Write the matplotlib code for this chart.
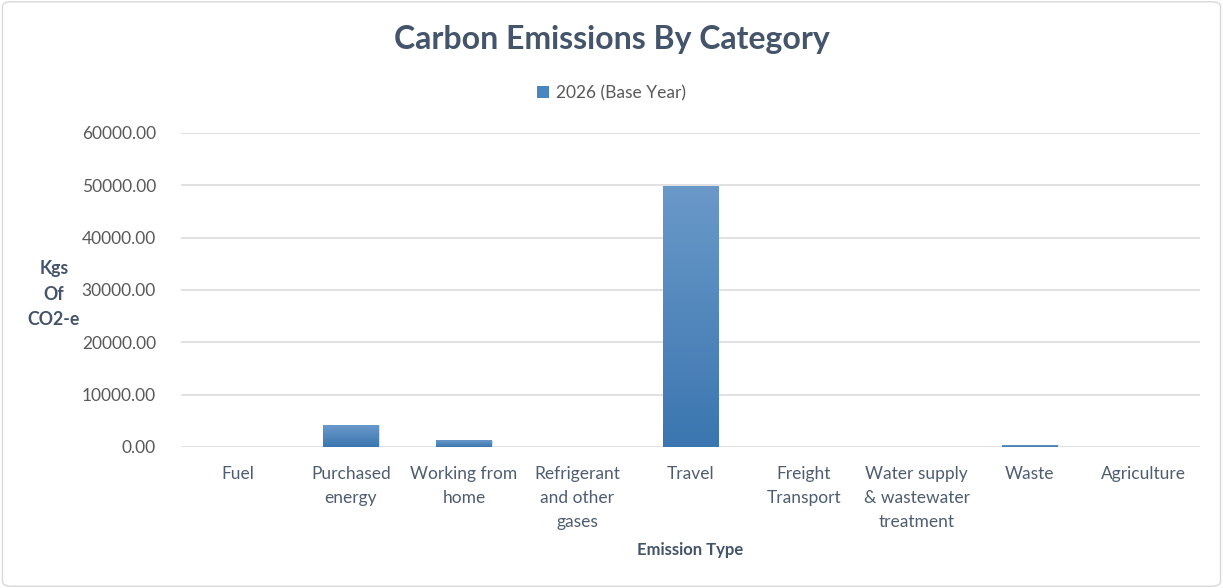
import numpy as np
import matplotlib.pyplot as plt
from matplotlib.patches import FancyBboxPatch
from matplotlib.colors import LinearSegmentedColormap

plt.rcParams['font.family'] = ['Lato', 'DejaVu Sans']

# Data
categories = ["Fuel", "Purchased\nenergy", "Working from\nhome", "Refrigerant\nand other\ngases",
              "Travel", "Freight\nTransport", "Water supply\n& wastewater\ntreatment", "Waste",
              "Agriculture"]
emissions = [0, 4200, 1250, 0, 49700, 0, 0, 300, 0]
series_name = "2026 (Base Year)"
yticks = np.arange(0, 60001, 10000)

title_col = "#44546a"
text_col = "#595959"
grid_col = "#d9d9d9"

fig = plt.figure(figsize=(12.23, 5.88), dpi=100)
ax = fig.add_axes([0.148, 0.240, 0.833, 0.534])

x = np.arange(len(categories))
bars = ax.bar(x, emissions, width=0.49, color="#4a86c0", label=series_name, zorder=2)

# gradient fill, lighter on top
cmap = LinearSegmentedColormap.from_list("bar", ["#3b76b0", "#6a99c9"])
grad = np.linspace(0, 1, 256).reshape(-1, 1)
for b in bars:
    h = b.get_height()
    if h <= 0:
        continue
    ax.imshow(grad, cmap=cmap, origin="lower", aspect="auto", zorder=3,
              extent=[b.get_x(), b.get_x() + b.get_width(), 0, h])
    b.set_edgecolor("#dfe8f2")
    b.set_linewidth(0.6)

ax.set_xlim(-0.5, len(categories) - 0.5)
ax.set_ylim(0, 60000)
ax.set_yticks(yticks)
ax.set_yticklabels([f"{v:.2f}" for v in yticks])
ax.set_xticks(x)
ax.set_xticklabels(categories, linespacing=1.62, va="top")
ax.tick_params(axis="y", length=0, pad=18, labelsize=12.5, labelcolor=text_col)
ax.tick_params(axis="x", length=0, pad=14, labelsize=12.5, labelcolor="#4e5d70")
ax.grid(axis="y", color=grid_col, linewidth=1.1, zorder=0)
for s in ax.spines.values():
    s.set_visible(False)

ax.set_xlabel("Emission Type", fontsize=12, fontweight="bold", color=title_col, labelpad=8)
fig.text(0.044, 0.500, "Kgs\nOf\nCO2-e", ha="center", va="center", fontsize=12.8,
         fontweight="bold", color=title_col, linespacing=1.6)

fig.text(0.5, 0.932, "Carbon Emissions By Category", ha="center", va="center",
         fontsize=23, fontweight="bold", color=title_col)
ax.legend(loc="center", frameon=False, fontsize=12.5, labelcolor=text_col,
          handlelength=0.7, handleheight=0.7, handletextpad=0.4)
leg = ax.get_legend()
leg.set_bbox_to_anchor((0.5, 0.842), transform=fig.transFigure)

fig.patches.append(FancyBboxPatch((0.002, 0.003), 0.996, 0.994,
                                  boxstyle="round,pad=0,rounding_size=0.008",
                                  transform=fig.transFigure, fill=False,
                                  edgecolor="#d9d9d9", linewidth=1))

fig.savefig("out.png", dpi=100)
